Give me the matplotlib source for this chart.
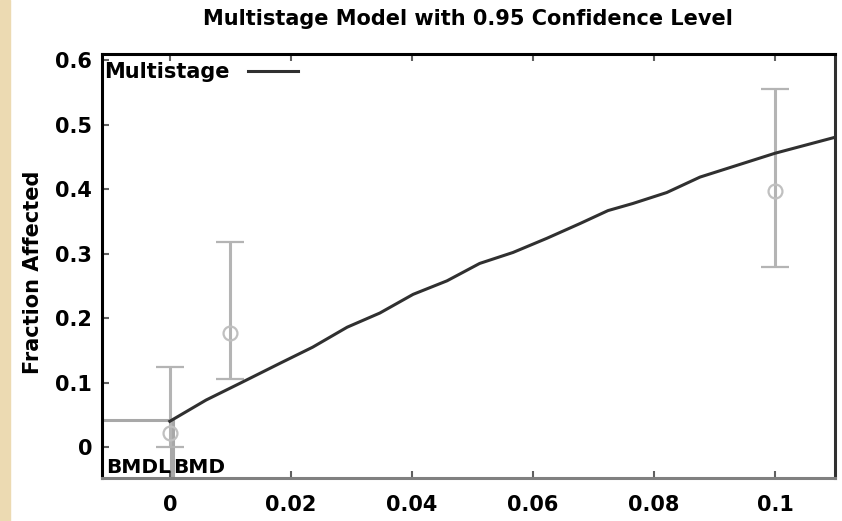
import matplotlib.pyplot as plt
import matplotlib.transforms as mtransforms
from matplotlib.patches import Rectangle

plt.rcParams.update({"font.family": "DejaVu Sans", "font.size": 15,
                     "font.weight": "bold"})

# fitted multistage curve
dose_fit = [0.0, 0.006, 0.0116, 0.0182, 0.0236, 0.0293, 0.0347, 0.0402,
            0.0458, 0.0512, 0.0567, 0.0623, 0.0678, 0.0724, 0.0765, 0.0821,
            0.0876, 0.1, 0.11]
resp_fit = [0.040, 0.073, 0.099, 0.130, 0.155, 0.186, 0.208, 0.237,
            0.258, 0.285, 0.302, 0.324, 0.347, 0.367, 0.378, 0.395,
            0.419, 0.456, 0.481]

# observed fractions with 95% limits
dose_obs = [0.0, 0.01, 0.1]
frac_obs = [0.022, 0.177, 0.398]
frac_lo = [0.0, 0.105, 0.279]
frac_hi = [0.124, 0.318, 0.555]

# benchmark dose markers
bmr_level = 0.042
bmdl, bmd = 0.0002, 0.0006

xticks = [0, 0.02, 0.04, 0.06, 0.08, 0.1]
xticklabels = ["0", "0.02", "0.04", "0.06", "0.08", "0.1"]
yticks = [0, 0.1, 0.2, 0.3, 0.4, 0.5, 0.6]
yticklabels = ["0", "0.1", "0.2", "0.3", "0.4", "0.5", "0.6"]

fig = plt.figure(figsize=(8.42, 5.21), dpi=100)
fig.patches.append(Rectangle((0, 0), 10 / 842, 1, transform=fig.transFigure,
                             color="#ecdab2", zorder=0))
ax = fig.add_axes([102 / 842, 43 / 521, 733 / 842, 424 / 521])

gray = "#b4b4b4"
yerr = [[f - lo for f, lo in zip(frac_obs, frac_lo)],
        [hi - f for f, hi in zip(frac_obs, frac_hi)]]
ax.errorbar(dose_obs, frac_obs, yerr=yerr, fmt="o", ms=10, mfc="none",
            mec="#c0c0c0", mew=1.6, ecolor=gray, elinewidth=2.2, capsize=10,
            capthick=2.2, zorder=2)

# BMR level and BMDL / BMD drop lines
xmin, xmax = -0.0112, 0.1099
ymin, ymax = -0.048, 0.61
ax.plot([xmin, bmd], [bmr_level, bmr_level], color="#a8a8a8", lw=2.2, zorder=1)
ax.plot([bmdl, bmdl], [ymin, bmr_level], color="#a8a8a8", lw=2.2, zorder=1)
ax.plot([bmd, bmd], [ymin, bmr_level], color="#a8a8a8", lw=2.2, zorder=1)
trans = mtransforms.blended_transform_factory(ax.transData, ax.transAxes)
ax.text(bmdl, 0.003, "BMDL", ha="right", va="bottom", transform=trans,
        fontsize=14.5)
ax.text(bmd, 0.003, "BMD", ha="left", va="bottom", transform=trans,
        fontsize=14.5)

ax.plot(dose_fit, resp_fit, color="#303030", lw=2.2, label="Multistage",
        zorder=3)

ax.set_xlim(xmin, xmax)
ax.set_ylim(ymin, ymax)
ax.set_xticks(xticks)
ax.set_xticklabels(xticklabels)
ax.set_yticks(yticks)
ax.set_yticklabels(yticklabels)
ax.tick_params(direction="in", length=5, width=1.5, color="#606060",
               top=True, right=False, labelsize=15)
ax.tick_params(axis="x", pad=12)
ax.tick_params(axis="y", pad=7)

for side in ("left", "top"):
    ax.spines[side].set_linewidth(2.2)
    ax.spines[side].set_color("black")
ax.spines["right"].set_linewidth(2.2)
ax.spines["right"].set_color("#303030")
ax.spines["bottom"].set_linewidth(2.2)
ax.spines["bottom"].set_color("#808080")

ax.legend(loc="upper left", markerfirst=False, frameon=False,
          borderaxespad=0.0, borderpad=0.1, handlelength=2.4,
          handletextpad=0.9, bbox_to_anchor=(0.0, 0.985),
          prop={"weight": "bold", "size": 15})

fig.text(468 / 842, 1 - 19 / 521, "Multistage Model with 0.95 Confidence Level",
         ha="center", va="center", fontsize=15)
fig.text(33 / 842, 1 - 272 / 521, "Fraction Affected", rotation=90,
         ha="center", va="center", fontsize=15)

fig.savefig("out.png", dpi=100, facecolor="white")
